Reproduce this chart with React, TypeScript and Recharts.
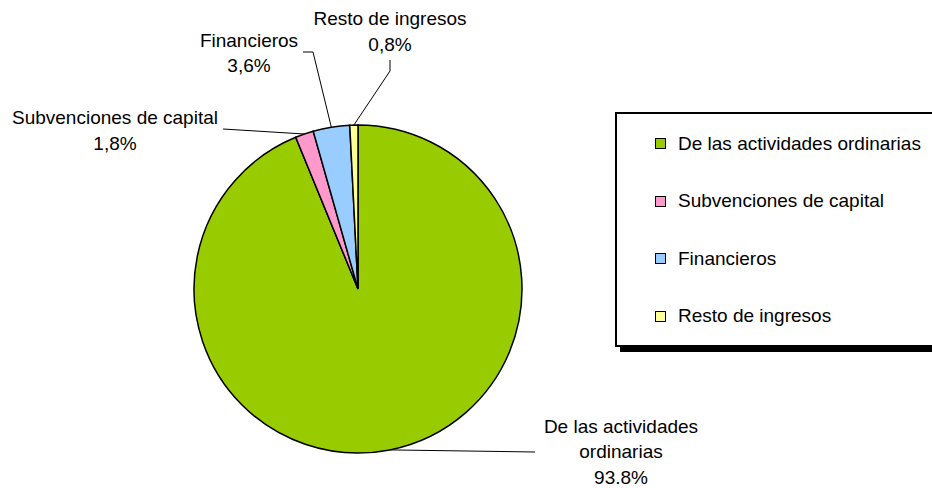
import { PieChart, Pie, Cell, Legend } from "recharts";

const categories = [
  "De las actividades ordinarias",
  "Subvenciones de capital",
  "Financieros",
  "Resto de ingresos",
];
const shares = [93.8, 1.8, 3.6, 0.8];
const shareLabels = ["93.8%", "1,8%", "3,6%", "0,8%"];
const labelLines = [
  ["De las actividades", "ordinarias"],
  ["Subvenciones de capital"],
  ["Financieros"],
  ["Resto de ingresos"],
];
const colors = ["#99CC00", "#FF99CC", "#99CCFF", "#FFFF99"];

// leader line bends + text block centre, as offsets from the pie centre
const labelLayout = [
  { path: [[177, 163]], text: [263, 137] },
  { path: [[-135, -160]], text: [-243, -171.5] },
  { path: [[-45, -237], [-55, -237]], text: [-109, -249] },
  { path: [[32, -218], [32, -229]], text: [32, -270.5] },
];

const FONT = '"Liberation Sans", Arial, sans-serif';
const RAD = Math.PI / 180;
const LINE_H = 25.5;

const data = categories.map((name, i) => ({ name, value: shares[i] }));

const renderLabel = (props: any) => {
  const { cx, cy, midAngle, outerRadius, index } = props;
  const ex = cx + outerRadius * Math.cos(-midAngle * RAD);
  const ey = cy + outerRadius * Math.sin(-midAngle * RAD);
  const layout = labelLayout[index];
  const pts = [[ex, ey], ...layout.path.map(([dx, dy]) => [cx + dx, cy + dy])];
  const lines = [...labelLines[index], shareLabels[index]];
  const tx = cx + layout.text[0];
  const ty = cy + layout.text[1];
  return (
    <g key={`lbl-${index}`}>
      <polyline
        points={pts.map((p) => p.join(",")).join(" ")}
        fill="none"
        stroke="#000"
        strokeWidth={1}
      />
      {lines.map((line, k) => (
        <text
          key={k}
          x={tx}
          y={ty + k * LINE_H}
          textAnchor="middle"
          dominantBaseline="central"
          fontFamily={FONT}
          fontSize={19}
          fill="#000"
        >
          {line}
        </text>
      ))}
    </g>
  );
};

const LegendBox = () => (
  <div
    style={{
      boxSizing: "border-box",
      width: 330,
      height: 235,
      border: "2px solid #000",
      boxShadow: "5px 5px 0 #000",
      background: "#fff",
      paddingTop: 1,
      fontFamily: FONT,
      fontSize: 19,
      color: "#000",
    }}
  >
    {categories.map((name, i) => (
      <div
        key={name}
        style={{ height: 57.5, display: "flex", alignItems: "center", paddingLeft: 38 }}
      >
        <span
          style={{
            boxSizing: "border-box",
            width: 11,
            height: 11,
            border: "1.5px solid #000",
            background: colors[i],
            marginRight: 12,
          }}
        />
        <span style={{ whiteSpace: "nowrap" }}>{name}</span>
      </div>
    ))}
  </div>
);

export default function App() {
  return (
    <div
      style={{
        position: "absolute",
        left: 0,
        top: 0,
        width: 932,
        height: 488,
        background: "#fff",
        overflow: "hidden",
      }}
    >
      <PieChart width={932} height={488} margin={{ top: 0, right: 0, bottom: 0, left: 0 }}>
        <Pie
          data={data}
          dataKey="value"
          nameKey="name"
          cx={358}
          cy={289}
          outerRadius={164}
          startAngle={90}
          endAngle={-270}
          stroke="#000"
          strokeWidth={1.5}
          label={renderLabel}
          labelLine={false}
          isAnimationActive={false}
        >
          {data.map((d, i) => (
            <Cell key={d.name} fill={colors[i]} />
          ))}
        </Pie>
        <Legend
          content={<LegendBox />}
          wrapperStyle={{ position: "absolute", left: 615, top: 112, width: 330, height: 235 }}
        />
      </PieChart>
    </div>
  );
}
